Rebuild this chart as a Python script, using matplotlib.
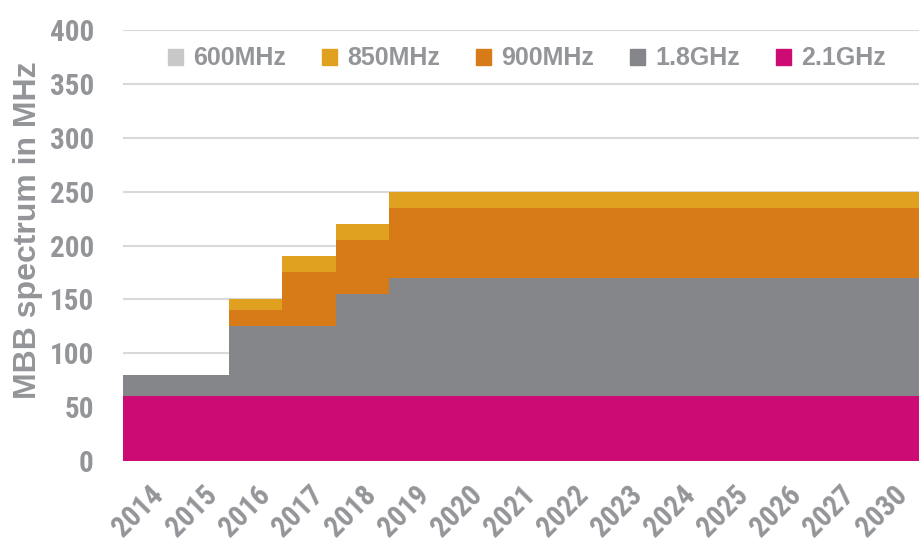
import numpy as np
import matplotlib
matplotlib.use('Agg')
import matplotlib.pyplot as plt

years = ['2014', '2015', '2016', '2017', '2018', '2019', '2020', '2021',
         '2022', '2023', '2024', '2025', '2026', '2027', '2030']
band_names = ['600MHz', '850MHz', '900MHz', '1.8GHz', '2.1GHz']
band_colors = ['#c8c8c8', '#e0a020', '#d67b18', '#858689', '#cc0c74']

mhz_2100 = [60, 60, 60, 60, 60, 60, 60, 60, 60, 60, 60, 60, 60, 60, 60]
mhz_1800 = [20, 20, 65, 65, 95, 110, 110, 110, 110, 110, 110, 110, 110, 110, 110]
mhz_900 = [0, 0, 15, 50, 50, 65, 65, 65, 65, 65, 65, 65, 65, 65, 65]
mhz_850 = [0, 0, 10, 15, 15, 15, 15, 15, 15, 15, 15, 15, 15, 15, 15]
mhz_600 = [0] * 15

text_grey = '#939598'
wide_font = ['Liberation Sans', 'DejaVu Sans']
plt.rcParams['font.family'] = ['Roboto Condensed', 'DejaVu Sans']
plt.rcParams['font.weight'] = 'bold'

fig = plt.figure(figsize=(9.2, 5.45), dpi=100)
ax = fig.add_axes([0.1337, 0.154, 0.8663, 0.791])

x = np.arange(len(years))
edges = np.arange(len(years) + 1) - 0.5
# stack from bottom: 2.1GHz, 1.8GHz, 900, 850, 600
stack = [mhz_2100, mhz_1800, mhz_900, mhz_850, mhz_600]
bottom = np.zeros(len(years))
for vals, col in zip(stack, band_colors[::-1]):
    top = bottom + np.array(vals, dtype=float)
    ax.stairs(top, edges, baseline=bottom, fill=True, color=col,
              linewidth=0, zorder=3)
    bottom = top

ax.set_xlim(-0.5, len(years) - 0.5)
ax.set_ylim(0, 400)
ax.set_yticks(np.arange(0, 401, 50))
ax.yaxis.grid(True, color='#d9d9d9', linewidth=1.5, zorder=0)
ax.set_axisbelow(True)
for s in ax.spines.values():
    s.set_visible(False)

ax.tick_params(axis='y', length=0, pad=21, labelsize=21, labelcolor=text_grey)
ax.tick_params(axis='x', length=0, pad=14, labelsize=21, labelcolor=text_grey)
ax.set_xticks(x)
ax.set_xticklabels(years, rotation=45, ha='right', va='top',
                   rotation_mode='anchor')
ax.set_ylabel('MBB spectrum in MHz', fontsize=23, color=text_grey,
              fontweight='bold', family=wide_font)
ax.yaxis.set_label_coords(-0.101, 0.536)

handles = [plt.Rectangle((0, 0), 1, 1, color=c) for c in band_colors]
ax.legend(handles, band_names, ncol=5, loc='center',
          bbox_to_anchor=(0.507, 0.934), frameon=False,
          prop={'family': wide_font, 'weight': 'bold', 'size': 18},
          handlelength=0.6, handleheight=0.6, handletextpad=0.4,
          columnspacing=1.45, labelcolor=text_grey)

fig.savefig('out.png', dpi=100)
